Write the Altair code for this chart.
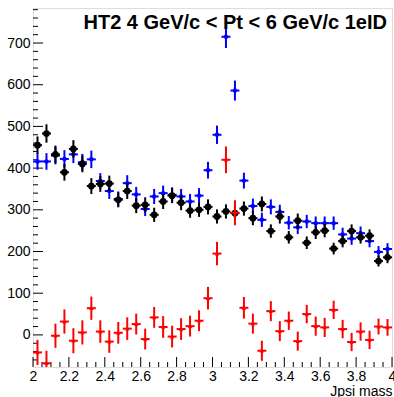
import altair as alt
import pandas as pd

title_text = "HT2 4 GeV/c < Pt < 6 GeV/c 1eID"
x_title = "Jpsi mass"

bin_width = 0.05
bin_lo = [round(2.0 + bin_width * i, 3) for i in range(40)]

# like-sign (black)
black_vals = [455, 483, 433, 390, 446, 410, 357, 362, 363, 324,
              345, 310, 312, 288, 320, 334, 317, 298, 300, 307,
              284, 296, 292, 303, 280, 314, 249, 284, 234, 274,
              221, 246, 250, 207, 225, 249, 234, 238, 177, 186]
black_errs = [21, 22, 21, 20, 21, 20, 19, 19, 19, 18,
              19, 18, 18, 17, 18, 18, 18, 17, 17, 18,
              17, 17, 17, 17, 17, 18, 16, 17, 15, 17,
              15, 16, 16, 14, 15, 16, 15, 15, 13, 14]

# unlike-sign (blue)
blue_vals = [416, 416, 430, 422, 433, 414, 421, 369, 345, 326,
             364, 337, 302, 332, 340, 336, 332, 320, 334, 395,
             480, 715, 586, 370, 309, 276, 307, 295, 269, 258,
             272, 268, 268, 268, 241, 231, 244, 225, 199, 206]
blue_errs = [20, 20, 21, 21, 21, 20, 21, 19, 19, 18,
             19, 18, 17, 18, 18, 18, 18, 18, 18, 20,
             22, 27, 24, 19, 18, 17, 18, 17, 16, 16,
             16, 16, 16, 16, 16, 15, 16, 15, 14, 14]

# signal (red)
red_vals = [-42, -68, -2, 32, -14, 6, 64, 8, -16, 5,
            15, 26, -10, 42, 19, -4, 14, 21, 34, 88,
            195, 420, 293, 65, 27, -38, 57, 9, 34, -15,
            50, 21, 18, 60, 14, -17, 8, -12, 20, 18]
red_errs = [30, 30, 29, 29, 30, 29, 28, 27, 27, 26,
            27, 25, 25, 25, 26, 26, 26, 25, 25, 27,
            28, 32, 30, 26, 24, 24, 24, 24, 22, 23,
            22, 23, 23, 22, 22, 22, 22, 22, 19, 20]

y_major = [0, 100, 200, 300, 400, 500, 600, 700]
y_minor = [v for v in range(-60, 784, 20) if v % 100 != 0]
x_major = [2.0, 2.2, 2.4, 2.6, 2.8, 3.0, 3.2, 3.4, 3.6, 3.8, 4.0]
x_minor = [round(2.0 + 0.05 * i, 2) for i in range(41) if i % 4 != 0]

W, H = 359, 359
FONT = "Liberation Sans"

def make_df(vals, errs):
    return pd.DataFrame({
        "lo": bin_lo,
        "hi": [l + bin_width for l in bin_lo],
        "c": [l + bin_width / 2 for l in bin_lo],
        "v": vals,
        "ylo": [v - e for v, e in zip(vals, errs)],
        "yhi": [v + e for v, e in zip(vals, errs)],
    })

xs = alt.Scale(domain=[2, 4], nice=False, zero=False)
ys = alt.Scale(domain=[-77, 784], nice=False, zero=False)

x_axis = alt.Axis(values=x_major, format="~g", ticks=False, domain=False, grid=False,
                  labelFontSize=14, labelFont=FONT, labelColor="black", labelPadding=2,
                  labelFlush=False, labelOverlap=False,
                  title=x_title, titleFont=FONT, titleFontSize=14, titleFontWeight="normal",
                  titleColor="black", titleAnchor="end", titleAlign="right", titlePadding=1)
y_axis = alt.Axis(values=y_major, ticks=False, domain=False, grid=False,
                  labelFontSize=14, labelFont=FONT, labelColor="black", labelPadding=3,
                  labelOverlap=False, title="")

X = lambda f: alt.X(f, scale=xs, axis=x_axis)
Y = lambda f: alt.Y(f, scale=ys, axis=y_axis)

layers = []

# ticks (inside the frame, ROOT style)
layers.append(alt.Chart(pd.DataFrame({"t": x_major})).mark_rule(color="black", strokeWidth=1).encode(
    x=X("t:Q"), y=alt.value(H), y2=alt.value(H - 10)))
layers.append(alt.Chart(pd.DataFrame({"t": y_major})).mark_rule(color="black", strokeWidth=1).encode(
    y=Y("t:Q"), x=alt.value(0), x2=alt.value(10)))
layers.append(alt.Chart(pd.DataFrame({"t": x_minor})).mark_rule(color="black", strokeWidth=1).encode(
    x=X("t:Q"), y=alt.value(H), y2=alt.value(H - 5)))
layers.append(alt.Chart(pd.DataFrame({"t": y_minor})).mark_rule(color="black", strokeWidth=1).encode(
    y=Y("t:Q"), x=alt.value(0), x2=alt.value(5)))

series = [
    (blue_vals, blue_errs, "#0000ff", "circle", 20),
    (black_vals, black_errs, "#000000", "circle", 45),
    (red_vals, red_errs, "#ff0000", "triangle-up", 18),
]
for vals, errs, col, shape, size in series:
    d = make_df(vals, errs)
    base = alt.Chart(d)
    layers.append(base.mark_rule(color=col, strokeWidth=2, clip=True).encode(
        x=X("c:Q"), y=Y("ylo:Q"), y2="yhi:Q"))
    layers.append(base.mark_rule(color=col, strokeWidth=2, clip=True).encode(
        x=X("lo:Q"), x2="hi:Q", y=Y("v:Q")))
    layers.append(base.mark_point(color=col, filled=True, opacity=1, shape=shape, size=size, clip=True).encode(
        x=X("c:Q"), y=Y("v:Q")))

layers.append(alt.Chart(pd.DataFrame({"t": [title_text]})).mark_text(
    align="right", baseline="alphabetic", font=FONT, fontSize=20, fontWeight="bold", color="black").encode(
    x=alt.value(354), y=alt.value(21), text="t:N"))

chart = alt.layer(*layers).properties(
    width=W, height=H,
    autosize=alt.AutoSizeParams(type="none"),
    padding={"left": 33, "top": 8, "right": 2, "bottom": 30},
).configure_view(stroke="black", strokeWidth=2).configure(background="white")

chart.save("out.html", embed_options={"renderer": "svg", "actions": False})
